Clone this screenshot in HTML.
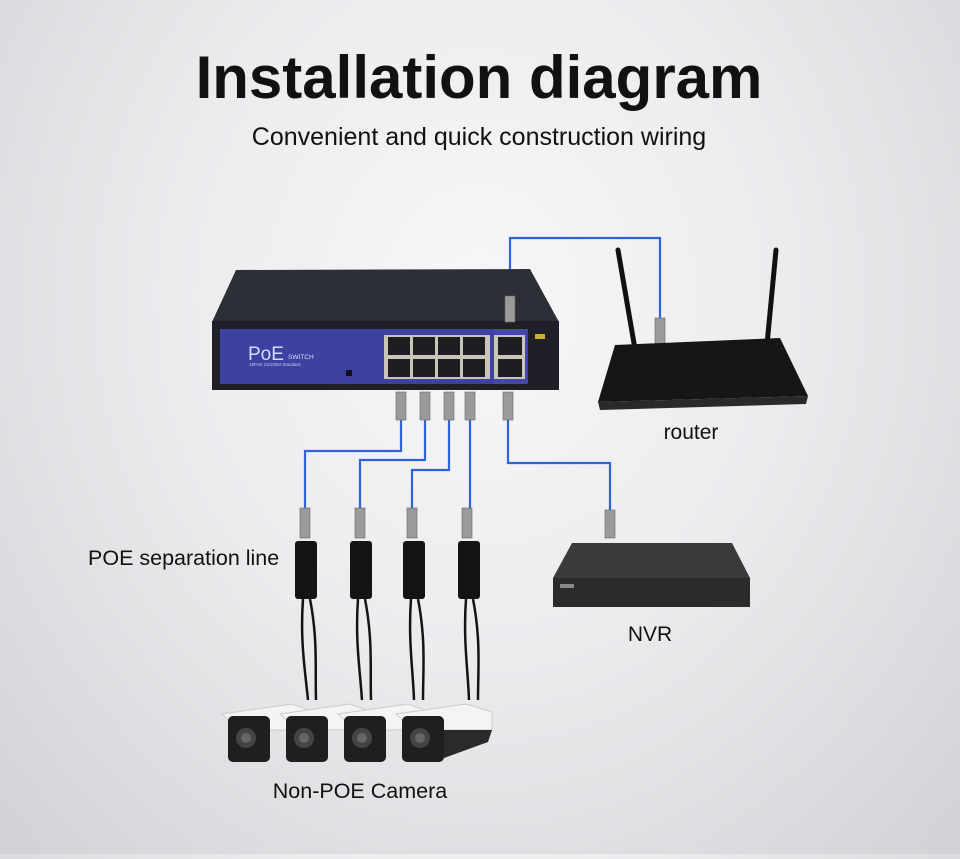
<!DOCTYPE html>
<html><head><meta charset="utf-8"><style>
html,body{margin:0;padding:0}
body{width:960px;height:854px;overflow:hidden;background:radial-gradient(ellipse at 50% 35%,#f7f7f9 0%,#ececef 45%,#d2d2d6 100%);font-family:"Liberation Sans",sans-serif}
</style></head><body>
<svg width="960" height="854" viewBox="0 0 960 854" xmlns="http://www.w3.org/2000/svg" font-family="Liberation Sans, sans-serif">
<text x="479" y="98" text-anchor="middle" font-size="60" font-weight="bold" fill="#111">Installation diagram</text>
<text x="479" y="145" text-anchor="middle" font-size="25" fill="#111">Convenient and quick construction wiring</text>

<g stroke="#2f64d6" stroke-width="2.2" fill="none">
<polyline points="510,300 510,238 660,238 660,322"/>
<polyline points="401,420 401,451 305,451 305,510"/>
<polyline points="425,420 425,460 360,460 360,510"/>
<polyline points="449,420 449,470 412,470 412,510"/>
<polyline points="470,420 470,510"/>
<polyline points="508,420 508,463 610,463 610,512"/>
</g>

<polygon points="236,270 530,269 559,322 212,322" fill="#2d2f36"/>
<rect x="212" y="321" width="347" height="69" fill="#1f2027"/>
<rect x="220" y="329" width="308" height="55" fill="#3d41a0"/>
<rect x="494" y="329" width="33" height="55" fill="#4548a8"/>
<text x="248" y="360" font-size="19" fill="#d8dcff">PoE</text>
<text x="288" y="359" font-size="6.5" fill="#d8dcff">SWITCH</text>
<text x="249" y="366" font-size="4.5" fill="#c8ccf0">16Port 10/100M Standard</text>
<rect x="384" y="335" width="106" height="44" fill="#c9c6b8"/>
<g fill="#1d1d22">
<rect x="388" y="337" width="22" height="18"/><rect x="413" y="337" width="22" height="18"/><rect x="438" y="337" width="22" height="18"/><rect x="463" y="337" width="22" height="18"/>
<rect x="388" y="359" width="22" height="18"/><rect x="413" y="359" width="22" height="18"/><rect x="438" y="359" width="22" height="18"/><rect x="463" y="359" width="22" height="18"/>
</g>
<rect x="494" y="335" width="31" height="44" fill="#c9c6b8"/>
<rect x="498" y="337" width="24" height="18" fill="#1d1d22"/><rect x="498" y="359" width="24" height="18" fill="#1d1d22"/>
<rect x="535" y="334" width="10" height="5" fill="#c9b030"/>
<rect x="346" y="370" width="6" height="6" fill="#111"/>

<g fill="#9a9a9a" stroke="#666" stroke-width="0.6">
<rect x="505" y="296" width="10" height="26"/>
<rect x="396" y="392" width="10" height="28"/><rect x="420" y="392" width="10" height="28"/><rect x="444" y="392" width="10" height="28"/><rect x="465" y="392" width="10" height="28"/><rect x="503" y="392" width="10" height="28"/>
<rect x="655" y="318" width="10" height="26"/>
<rect x="300" y="508" width="10" height="30"/><rect x="355" y="508" width="10" height="30"/><rect x="407" y="508" width="10" height="30"/><rect x="462" y="508" width="10" height="30"/>
<rect x="605" y="510" width="10" height="28"/>
</g>

<line x1="618" y1="250" x2="636" y2="355" stroke="#111" stroke-width="5" stroke-linecap="round"/>
<line x1="776" y1="250" x2="766" y2="355" stroke="#111" stroke-width="5" stroke-linecap="round"/>
<polygon points="615,345 780,338 808,396 598,402" fill="#161616"/>
<polygon points="598,402 808,396 806,404 600,410" fill="#2a2a2a"/>
<text x="691" y="439" text-anchor="middle" font-size="21" fill="#111">router</text>

<polygon points="572,543 732,543 750,578 553,578" fill="#3a3a3c"/>
<rect x="553" y="578" width="197" height="29" fill="#2b2b2d"/>
<rect x="560" y="584" width="14" height="4" fill="#888"/>
<text x="650" y="641" text-anchor="middle" font-size="21" fill="#111">NVR</text>

<g fill="#141414">
<rect x="295" y="541" width="22" height="58" rx="3"/><rect x="350" y="541" width="22" height="58" rx="3"/><rect x="403" y="541" width="22" height="58" rx="3"/><rect x="458" y="541" width="22" height="58" rx="3"/>
</g>
<g stroke="#141414" stroke-width="2.5" fill="none">
<path d="M303,599 C300,640 305,670 308,700 M310,599 C318,640 315,670 316,700"/>
<path d="M358,599 C355,640 360,670 362,700 M365,599 C373,640 370,670 371,700"/>
<path d="M411,599 C408,640 413,670 414,700 M418,599 C426,640 423,670 423,700"/>
<path d="M466,599 C463,640 468,670 469,700 M473,599 C481,640 478,670 478,700"/>
</g>
<text x="88" y="565" font-size="21.5" fill="#111">POE separation line</text>

<g>
<g transform="translate(222,700)"><path d="M0,14 L70,4 L92,12 L88,30 L18,30 Z" fill="#f4f4f4" stroke="#ccc"/><rect x="6" y="16" width="42" height="46" rx="5" fill="#1f1f1f"/><circle cx="24" cy="38" r="10" fill="#444"/><circle cx="24" cy="38" r="5" fill="#666"/></g>
<g transform="translate(280,700)"><path d="M0,14 L70,4 L92,12 L88,30 L18,30 Z" fill="#f4f4f4" stroke="#ccc"/><rect x="6" y="16" width="42" height="46" rx="5" fill="#1f1f1f"/><circle cx="24" cy="38" r="10" fill="#444"/><circle cx="24" cy="38" r="5" fill="#666"/></g>
<g transform="translate(338,700)"><path d="M0,14 L70,4 L92,12 L88,30 L18,30 Z" fill="#f4f4f4" stroke="#ccc"/><rect x="6" y="16" width="42" height="46" rx="5" fill="#1f1f1f"/><circle cx="24" cy="38" r="10" fill="#444"/><circle cx="24" cy="38" r="5" fill="#666"/></g>
<g transform="translate(396,700)"><path d="M0,14 L70,4 L96,12 L96,30 L18,30 Z" fill="#f4f4f4" stroke="#ccc"/><path d="M48,30 L96,30 L92,42 L48,58 Z" fill="#2a2a2a"/><rect x="6" y="16" width="42" height="46" rx="5" fill="#1f1f1f"/><circle cx="24" cy="38" r="10" fill="#444"/><circle cx="24" cy="38" r="5" fill="#666"/></g>
</g>
<text x="360" y="798" text-anchor="middle" font-size="21.5" fill="#111">Non-POE Camera</text>
</svg>
</body></html>
